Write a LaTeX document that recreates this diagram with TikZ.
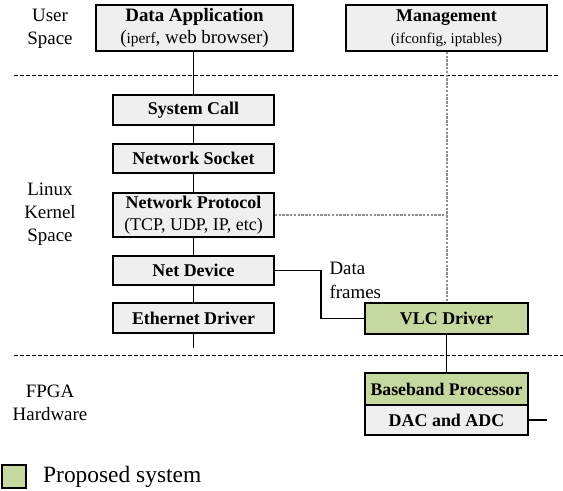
\documentclass[tikz,border=0pt]{standalone}
\usepackage{fontspec}
\setmainfont{Liberation Serif}
\usetikzlibrary{positioning}

\definecolor{boxgray}{HTML}{EFEFEF}
\definecolor{propgreen}{HTML}{C5D89F}
\definecolor{linkgray}{HTML}{8E8E8E}

\tikzset{
  layerbox/.style={draw=black, line width=1.5bp, fill=boxgray, rectangle,
    inner sep=0pt, align=center, font=\fontsize{18}{21.5}\selectfont\bfseries},
  greenbox/.style={layerbox, fill=propgreen},
  wire/.style={line width=1.9bp, black},
  ctrl/.style={line width=2bp, linkgray, dash pattern=on 2.4bp off 1.4bp},
  divider/.style={line width=0.9bp, black, dash pattern=on 3.5bp off 2.5bp},
  layerlabel/.style={align=center, font=\fontsize{19}{23}\selectfont},
}

\begin{document}
\begin{tikzpicture}[x=1bp, y=-1bp]
  \useasboundingbox (0,0) rectangle (563,491);

  % layer dividers
  \coordinate (d1l) at (14,75);
  \coordinate (d1r) at (559,75);
  \coordinate (d2l) at (14,355);
  \coordinate (d2r) at (563,355);
  \draw[divider] (d1l) -- (d1r);
  \draw[divider] (d2l) -- (d2r);

  % layer names
  \node[layerlabel] (lusr) at (50,29) {User\\Space};
  \node[layerlabel] (lker) at (50,214) {Linux\\Kernel\\Space};
  \node[layerlabel] (lhw) at (50,403) {FPGA\\Hardware};

  % user space
  \node[layerbox, minimum width=197bp, minimum height=46bp,
        font=\fontsize{19}{21.6}\selectfont] (app) at (194.5,28)
    {\textbf{Data Application}\\({\fontsize{15.5}{18}\selectfont iperf}, web browser)};
  \node[layerbox, minimum width=201bp, minimum height=46bp,
        font=\fontsize{18}{22}\selectfont] (mgmt) at (446.5,28)
    {\textbf{Management}\\{\fontsize{15}{18}\selectfont (ifconfig, iptables)}};

  % kernel stack
  \node[layerbox, minimum width=161bp, minimum height=30bp] (sys) at (193.5,110) {System Call};
  \node[layerbox, minimum width=161bp, minimum height=29bp] (sock) at (193.5,158.5) {Network Socket};
  \node[layerbox, minimum width=161bp, minimum height=44bp] (proto) at (193.5,215)
    {Network Protocol\\{\mdseries (TCP, UDP, IP, etc)}};
  \node[layerbox, minimum width=161bp, minimum height=29bp] (netdev) at (193.5,270.5) {Net Device};
  \node[layerbox, minimum width=161bp, minimum height=30bp] (eth) at (193.5,318) {Ethernet Driver};
  \coordinate (ethend) at (193.5,348);

  % proposed driver and hardware
  \node[greenbox, minimum width=163bp, minimum height=31bp] (vlc) at (446.5,318.5) {VLC Driver};
  \node[greenbox, minimum width=163bp, minimum height=32bp,
        font=\fontsize{17.8}{20}\selectfont\bfseries] (bb) at (446.5,389) {Baseband Processor};
  \node[layerbox, minimum width=163bp, minimum height=30bp] (dac) at (446.5,420) {DAC and ADC};
  \coordinate (dacend) at (547,420);

  % stack connections
  \draw[wire] (sys.north) -- (sys.north |- app.south);
  \draw[wire] (sys) -- (sock);
  \draw[wire] (sock) -- (proto);
  \draw[wire] (proto) -- (netdev);
  \draw[wire] (netdev) -- (eth);
  \draw[wire] (eth) -- (ethend);
  \draw[wire] (vlc) -- (bb);
  \draw[wire] (dac.east) -- (dacend);

  % data path from the net device to the VLC driver
  \coordinate (bend) at (321,270.5);
  \draw[wire] (netdev.east) -- (bend) |- (vlc.west);
  \node[anchor=west, align=left, font=\fontsize{19}{24}\selectfont] (frames) at (326,280)
    {Data\\frames};

  % management control path
  \draw[ctrl] (mgmt.south -| vlc.north) -- (vlc.north);
  \draw[ctrl] (proto.east) -- (proto.east -| vlc.north);

  % legend
  \node[draw=black, line width=1.2bp, fill=propgreen, minimum width=24bp, minimum height=23bp,
        inner sep=0pt] (key) at (14,476.5) {};
  \node[anchor=west, font=\fontsize{23.5}{26}\selectfont, inner sep=0pt] (keytext) at (43,477)
    {Proposed system};
\end{tikzpicture}
\end{document}
